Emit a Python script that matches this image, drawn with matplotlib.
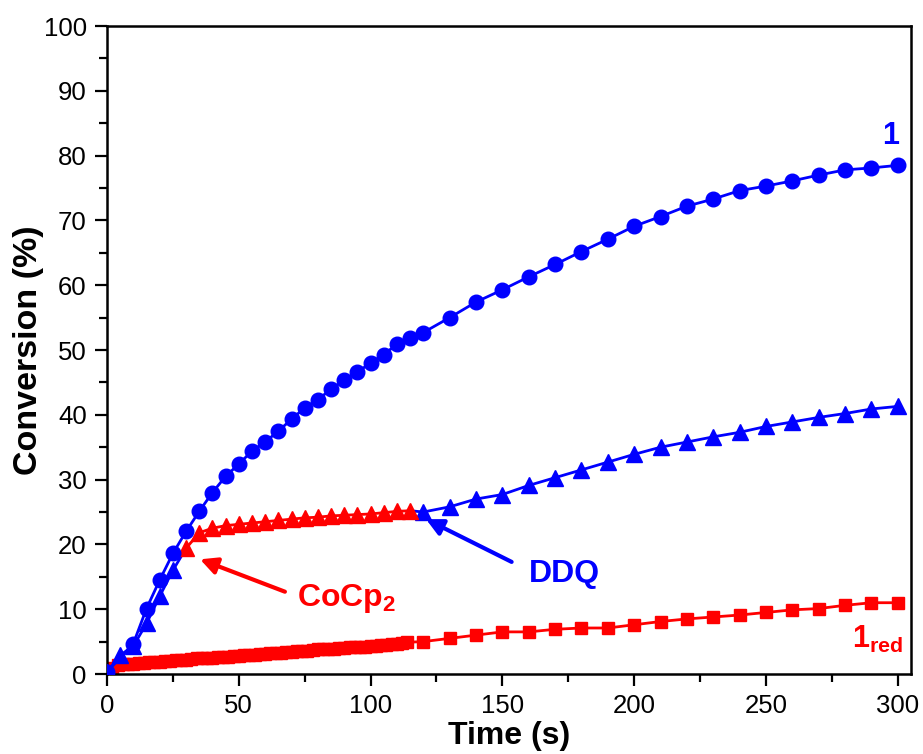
import matplotlib
matplotlib.use("Agg")
import matplotlib.pyplot as plt
from matplotlib.ticker import MultipleLocator

plt.rcParams['font.family'] = ['Liberation Sans', 'DejaVu Sans']
plt.rcParams['mathtext.fontset'] = 'custom'
plt.rcParams['mathtext.rm'] = 'Liberation Sans'
plt.rcParams['mathtext.bf'] = 'Liberation Sans:bold'

BLUE = '#0000ff'
RED = '#ff0000'

# Series "1" (circles)
t_one = [0, 10, 15, 20, 25, 30, 35, 40, 45, 50, 55, 60, 65, 70, 75, 80, 85, 90, 95,
         100, 105, 110, 115, 120, 130, 140, 150, 160, 170, 180, 190, 200, 210, 220,
         230, 240, 250, 260, 270, 280, 290, 300]
c_one = [0.3, 4.7, 10.1, 14.5, 18.6, 22.0, 25.1, 28.0, 30.5, 32.4, 34.4, 35.8, 37.5,
         39.3, 41.1, 42.3, 44.0, 45.3, 46.6, 48.0, 49.3, 50.9, 51.9, 52.7, 55.0, 57.4,
         59.3, 61.3, 63.2, 65.2, 67.1, 69.1, 70.6, 72.2, 73.3, 74.6, 75.3, 76.1, 77.0,
         77.8, 78.1, 78.5]

# DDQ experiment (triangles): blue before CoCp2, red after CoCp2, blue after DDQ
t_pre = [0, 5, 10, 15, 20, 25]
c_pre = [0.3, 2.9, 4.3, 7.8, 12.0, 16.0]
t_mid = [30, 35, 40, 45, 50, 55, 60, 65, 70, 75, 80, 85, 90, 95, 100, 105, 110, 115]
c_mid = [19.4, 21.8, 22.5, 22.9, 23.1, 23.3, 23.5, 23.7, 23.9, 24.1, 24.2, 24.4,
         24.5, 24.6, 24.7, 24.9, 25.1, 25.2]
t_post = [120, 130, 140, 150, 160, 170, 180, 190, 200, 210, 220, 230, 240, 250,
          260, 270, 280, 290, 300]
c_post = [25.0, 25.8, 27.0, 27.7, 29.1, 30.3, 31.5, 32.7, 33.9, 35.0, 35.8, 36.6,
          37.3, 38.2, 38.9, 39.6, 40.2, 40.9, 41.3]

# Series "1red" (squares)
t_red = [0, 2, 4, 6, 8, 10, 12, 14, 16, 18, 20, 22, 24, 26, 28, 30, 32, 34, 36, 38,
         40, 42, 44, 46, 48, 50, 52, 54, 56, 58, 60, 62, 64, 66, 68, 70, 72, 74, 76,
         78, 80, 82, 84, 86, 88, 90, 92, 94, 96, 98, 100, 102, 104, 106, 108, 110,
         112, 114, 120, 130, 140, 150, 160, 170, 180, 190, 200, 210, 220, 230, 240,
         250, 260, 270, 280, 290, 300]
c_red = [0.3, 1.0, 1.4, 1.5, 1.6, 1.6, 1.7, 1.7, 1.8, 1.9, 1.9, 2.0, 2.0, 2.1, 2.1,
         2.2, 2.3, 2.4, 2.4, 2.5, 2.5, 2.6, 2.7, 2.7, 2.8, 2.8, 2.9, 2.9, 3.0, 3.1,
         3.1, 3.2, 3.2, 3.3, 3.4, 3.4, 3.5, 3.6, 3.6, 3.7, 3.8, 3.8, 3.9, 3.9, 4.0,
         4.0, 4.1, 4.1, 4.2, 4.2, 4.3, 4.3, 4.4, 4.5, 4.6, 4.7, 4.8, 4.9, 5.0, 5.5,
         6.0, 6.5, 6.5, 6.9, 7.1, 7.1, 7.6, 8.1, 8.5, 8.8, 9.1, 9.5, 9.9, 10.1, 10.6,
         11.0, 11.0]

x_ticks = [0, 50, 100, 150, 200, 250, 300]
y_ticks = [0, 10, 20, 30, 40, 50, 60, 70, 80, 90, 100]

fig = plt.figure(figsize=(9.23, 7.54), dpi=100)
ax = fig.add_axes([0.1159, 0.1061, 0.8711, 0.8594])

lw = 2.0
# squares
ax.plot(t_red, c_red, color=RED, lw=lw, marker='s', ms=9, mec=RED, mfc=RED, zorder=2)
# triangles
ax.plot(t_pre + t_mid[:1], c_pre + c_mid[:1], color=BLUE, lw=lw, zorder=3)
ax.plot(t_pre, c_pre, ls='none', marker='^', ms=11, color=BLUE, zorder=3)
ax.plot(t_mid[-1:] + t_post, c_mid[-1:] + c_post, color=BLUE, lw=lw, marker='^', ms=11,
        markevery=list(range(1, len(t_post) + 1)), zorder=3)
ax.plot(t_mid, c_mid, color=RED, lw=lw, marker='^', ms=11, zorder=4)
# circles
ax.plot(t_one, c_one, color=BLUE, lw=lw, marker='o', ms=10.5, zorder=5)

ax.set_xlim(0, 305)
ax.set_ylim(0, 100)
ax.set_xticks(x_ticks)
ax.set_yticks(y_ticks)
ax.xaxis.set_minor_locator(MultipleLocator(25))
ax.yaxis.set_minor_locator(MultipleLocator(5))
ax.tick_params(which='major', direction='out', length=8.5, width=1.6, labelsize=18.5,
               top=False, right=False, pad=6)
ax.tick_params(which='minor', direction='out', length=5.5, width=1.6,
               top=False, right=False)
for s in ax.spines.values():
    s.set_linewidth(1.8)

ax.set_xlabel('Time (s)', fontsize=23, fontweight='bold', labelpad=2)
ax.set_ylabel('Conversion (%)', fontsize=24.5, fontweight='bold')
ax.yaxis.set_label_coords(-0.078, 0.5)

# annotations
ax.text(297.3, 81.8, '1', color=BLUE, fontsize=22, fontweight='bold', ha='center', va='baseline')
ax.text(282.5, 4.0, r'$\mathbf{1_{red}}$', color=RED, fontsize=22, ha='left', va='baseline')
ax.text(173.7, 15.5, 'DDQ', color=BLUE, fontsize=23, fontweight='bold', ha='center', va='center')
ax.text(72, 10.5, r'$\mathbf{CoCp_2}$', color=RED, fontsize=23, ha='left', va='baseline')

ax.annotate('', xy=(121.0, 23.9), xytext=(153.5, 17.3),
            arrowprops=dict(arrowstyle='-|>,head_length=1.0,head_width=0.5', color=BLUE,
                            lw=3, shrinkA=0, shrinkB=0))
ax.annotate('', xy=(35.3, 17.7), xytext=(67.5, 12.7),
            arrowprops=dict(arrowstyle='-|>,head_length=1.0,head_width=0.5', color=RED,
                            lw=3, shrinkA=0, shrinkB=0))

fig.savefig('out.png', dpi=100)
